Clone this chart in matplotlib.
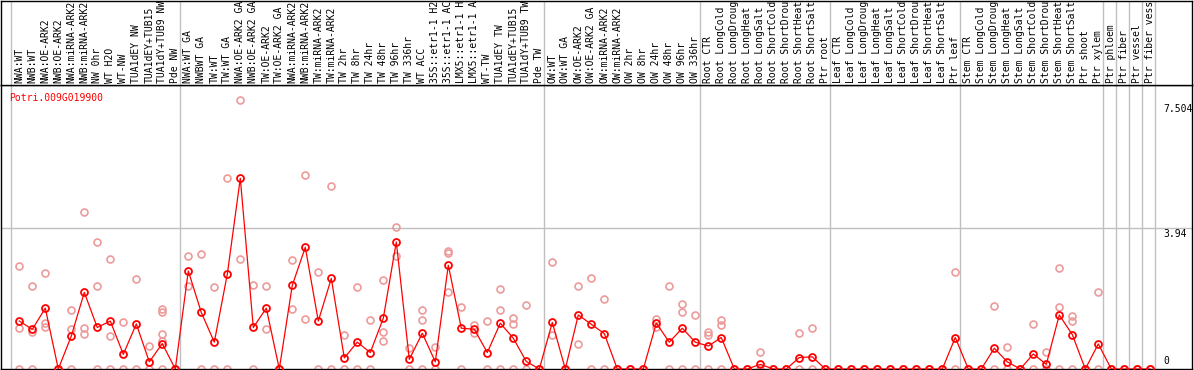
import numpy as np
from matplotlib import pyplot as plt

gene = 'Potri.009G019900'

labels = [
    'NWA:WT', 'NWB:WT', 'NWA:OE-ARK2', 'NWB:OE-ARK2', 'NWA:miRNA-ARK2',
    'NWB:miRNA-ARK2', 'NW 0hr', 'WT H2O', 'WT-NW', 'TUA1dEY NW',
    'TUA1dEY+TUB15', 'TUA1dY+TUB9 NW', 'Pde NW',
    'NWA:WT GA', 'NWBWT GA', 'TW:WT', 'TW:WT GA', 'NWA:OE-ARK2 GA',
    'NWB:OE-ARK2 GA', 'TW:OE-ARK2', 'TW:OE-ARK2 GA', 'NWA:miRNA-ARK2',
    'NWB:miRNA-ARK2', 'TW:miRNA-ARK2', 'TW:miRNA-ARK2', 'TW 2hr', 'TW 8hr',
    'TW 24hr', 'TW 48hr', 'TW 96hr', 'TW 336hr', 'WT ACC', '35S::etr1-1 H2',
    '35S::etr1-1 AC', 'LMX5::etr1-1 H', 'LMX5::etr1-1 A', 'WT-TW',
    'TUA1dEY TW', 'TUA1dEY+TUB15', 'TUA1dY+TUB9 TW', 'Pde TW',
    'OW:WT', 'OW:WT GA', 'OW:OE-ARK2', 'OW:OE-ARK2 GA', 'OW:miRNA-ARK2',
    'OW:miRNA-ARK2', 'OW 2hr', 'OW 8hr', 'OW 24hr', 'OW 48hr', 'OW 96hr',
    'OW 336hr',
    'Root CTR', 'Root LongCold', 'Root LongDroug', 'Root LongHeat',
    'Root LongSalt', 'Root ShortCold', 'Root ShortDrou', 'Root ShortHeat',
    'Root ShortSalt', 'Ptr root',
    'Leaf CTR', 'Leaf LongCold', 'Leaf LongDroug', 'Leaf LongHeat',
    'Leaf LongSalt', 'Leaf ShortCold', 'Leaf ShortDrou', 'Leaf ShortHeat',
    'Leaf ShortSalt', 'Ptr leaf',
    'Stem CTR', 'Stem LongCold', 'Stem LongDroug', 'Stem LongHeat',
    'Stem LongSalt', 'Stem ShortCold', 'Stem ShortDrou', 'Stem ShortHeat',
    'Stem ShortSalt', 'Ptr shoot',
    'Ptr xylem', 'Ptr phloem', 'Ptr fiber', 'Ptr vessel', 'Ptr fiber vess',
]

means = [
    1.34, 1.11, 1.70, 0, 0.92, 2.14, 1.16, 1.34, 0.41, 1.26, 0.20, 0.71, 0,
    2.74, 1.58, 0.75, 2.65, 5.33, 1.16, 1.70, 0, 2.34, 3.40, 1.34, 2.53,
    0.31, 0.75, 0.46, 1.42, 3.55, 0.27, 1.00, 0.20, 2.90, 1.14, 1.11, 0.46,
    1.28, 0.86, 0.21, 0,
    1.30, 0, 1.51, 1.25, 0.99, 0, 0, 0, 1.28, 0.75, 1.14, 0.75,
    0.64, 0.88, 0, 0, 0.13, 0, 0, 0.32, 0.34, 0,
    0, 0, 0, 0, 0, 0, 0, 0, 0, 0.88,
    0, 0, 0.58, 0.20, 0, 0.42, 0.13, 1.51, 0.96, 0,
    0.70, 0, 0, 0, 0,
]

replicates = [
    [2.88, 1.15, 0], [2.32, 1.02, 0], [2.67, 1.29, 1.16], [0, 0],
    [1.64, 1.12, 0], [4.39, 1.15, 0.98], [3.55, 2.32, 0], [3.07, 0.92, 0],
    [1.30, 0], [2.51, 0], [0.64, 0], [1.68, 1.58, 0.98, 0.78, 0], [0, 0],
    [3.15, 2.32], [3.21, 0], [2.28, 0], [5.33, 0], [7.504, 3.07],
    [2.34, 0], [2.32, 1.11], [0, 0], [3.05, 1.68], [5.41, 1.40], [2.70, 0],
    [5.10, 0], [0.95, 0], [2.29, 0], [1.36, 0], [2.49, 1.03, 0.78],
    [3.96, 3.15], [0.59, 0], [1.64, 1.36, 0], [0.61, 0], [3.29, 3.25, 2.14],
    [1.72, 0], [1.23, 1.00], [1.33, 0], [2.24, 1.64, 0], [1.42, 1.26, 0],
    [1.78, 0], [0, 0],
    [2.99, 0.95], [0, 0], [2.32, 0.71], [2.53, 0], [1.96, 0], [0, 0],
    [0, 0], [0, 0], [1.41, 1.16], [2.32, 0], [1.83, 1.58, 0], [1.51, 0],
    [1.02, 0.95, 0], [1.37, 1.23, 0], [0, 0], [0, 0], [0.48, 0], [0, 0],
    [0, 0], [1.00, 0], [1.14, 0], [0, 0],
    [0, 0], [0, 0], [0, 0], [0, 0], [0, 0], [0, 0], [0, 0], [0, 0], [0, 0],
    [2.70, 0],
    [0, 0], [0, 0], [1.76, 0], [0.61, 0], [0, 0], [1.26, 0], [0.48, 0],
    [2.82, 1.73, 0], [1.49, 1.34, 0], [0, 0],
    [2.15, 0], [0, 0], [0, 0], [0, 0], [0, 0],
]

# last sample index of each block, a grey separator is drawn after it
group_ends = [-1, 12, 40, 52, 62, 72, 83, 84, 85, 86, 87]

y_max = 7.504
y_mid = 3.94

W, H = 1194, 370
fig = plt.figure(figsize=(W / 100, H / 100), dpi=100)

# pixel geometry of the reference
left, right, head_bottom, bottom = 1, 1192, 85, 369
ax = fig.add_axes([left / W, (H - bottom) / H, (right - left) / W,
                   (bottom - head_bottom) / H])
hx = fig.add_axes([left / W, (H - head_bottom) / H, (right - left) / W,
                   (head_bottom - 1) / H], sharex=ax)

x = np.arange(len(labels))
pitch = 13.0
x0 = 19.3
ax.set_xlim((left - x0) / pitch, (right - x0) / pitch)
ax.set_ylim(0, (bottom - head_bottom) / 141.0 * y_mid)
hx.set_ylim(0, head_bottom - 1)

grey = '#c0c0c0'
for g in group_ends:
    ax.axvline(g + 0.38, color=grey, lw=1.0, zorder=1)
    hx.axvline(g + 0.38, color=grey, lw=1.0, zorder=1)
ax.axhline(y_mid, color=grey, lw=1.0, zorder=1)

for i, reps in enumerate(replicates):
    ax.plot([i] * len(reps), reps, 'o', ms=5, mfc='none', mec='#ec9a9a',
            mew=1.2, zorder=2)

ax.plot(x, means, '-', color='red', lw=0.9, zorder=3)
ax.plot(x, means, 'o', ms=5, mfc='none', mec='red', mew=1.3, zorder=4)

for i, lab in enumerate(labels):
    hx.text(i, 2, lab, rotation=90, ha='center', va='bottom', fontsize=7,
            family='DejaVu Sans Mono', clip_on=True)

ax.text(8 / 1191, 1 - 8 / 284, gene, transform=ax.transAxes, color='red',
        fontsize=7, family='DejaVu Sans Mono', va='top', ha='left')

tx = (1163 - left) / (right - left)
trans = ax.get_yaxis_transform()
ax.text(tx, y_max - 0.1, '7.504', transform=trans, va='top', ha='left',
        fontsize=7, family='DejaVu Sans Mono')
ax.text(tx, y_mid - 0.03, '3.94', transform=trans, va='top', ha='left',
        fontsize=7, family='DejaVu Sans Mono')
ax.text(tx, 0.08, '0', transform=trans, va='bottom', ha='left',
        fontsize=7, family='DejaVu Sans Mono')

for a in (ax, hx):
    a.set_xticks([])
    a.set_yticks([])
    for s in a.spines.values():
        s.set_color('black')
        s.set_linewidth(1.0)

fig.savefig('out.png', dpi=100)
